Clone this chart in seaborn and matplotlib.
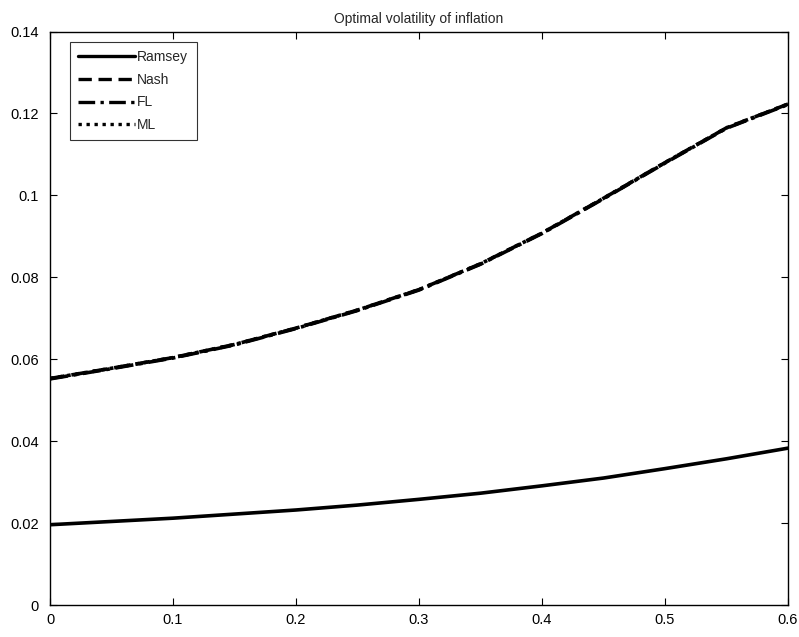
import matplotlib
matplotlib.use("Agg")
import matplotlib.pyplot as plt
import seaborn as sns
import pandas as pd

# Horizontal grid and the optimal inflation volatility under each regime
x_vals = [0.0, 0.05, 0.10, 0.15, 0.20, 0.25, 0.30, 0.35, 0.40, 0.45, 0.50, 0.55, 0.60]
ramsey = [0.0196, 0.0204, 0.0212, 0.0222, 0.0232, 0.0244, 0.0258, 0.0273, 0.0291, 0.0310, 0.0333, 0.0357, 0.0383]
nash = [0.0553, 0.0578, 0.0604, 0.0636, 0.0676, 0.0720, 0.0770, 0.0833, 0.0908, 0.0993, 0.1080, 0.1165, 0.1223]
fl = [0.0552, 0.0577, 0.0603, 0.0635, 0.0675, 0.0719, 0.0769, 0.0832, 0.0907, 0.0992, 0.1079, 0.1164, 0.1222]
ml = [0.0553, 0.0578, 0.0604, 0.0636, 0.0676, 0.0720, 0.0770, 0.0833, 0.0908, 0.0993, 0.1080, 0.1165, 0.1223]

series_names = ["Ramsey", "Nash", "FL", "ML"]
series_values = [ramsey, nash, fl, ml]
line_styles = ["-", (0, (4.0, 2.0)), (0, (5.0, 1.6, 1.0, 1.6)), (0, (1.0, 1.4))]

x_ticks = [0, 0.1, 0.2, 0.3, 0.4, 0.5, 0.6]
x_tick_labels = ["0", "0.1", "0.2", "0.3", "0.4", "0.5", "0.6"]
y_ticks = [0, 0.02, 0.04, 0.06, 0.08, 0.1, 0.12, 0.14]
y_tick_labels = ["0", "0.02", "0.04", "0.06", "0.08", "0.1", "0.12", "0.14"]

sns.set_theme(style="white")
plt.rcParams["font.family"] = ["Liberation Sans", "DejaVu Sans"]
plt.rcParams["xtick.direction"] = "in"
plt.rcParams["ytick.direction"] = "in"

fig = plt.figure(figsize=(7.99, 6.37), dpi=100)
ax = fig.add_axes([0.0626, 0.0502, 0.9237, 0.9003])

for name, vals, ls in zip(series_names, series_values, line_styles):
    df = pd.DataFrame({"x": x_vals, "y": vals})
    sns.lineplot(data=df, x="x", y="y", ax=ax, color="black", linewidth=2.6,
                 linestyle=ls, label=name)

ax.set_xlim(0, 0.6)
ax.set_ylim(0, 0.14)
ax.set_xticks(x_ticks)
ax.set_xticklabels(x_tick_labels)
ax.set_yticks(y_ticks)
ax.set_yticklabels(y_tick_labels)
ax.set_xlabel("")
ax.set_ylabel("")
ax.tick_params(axis="both", which="both", direction="in", length=5, width=0.8,
               colors="black", labelsize=10.5, top=True, right=True,
               bottom=True, left=True)
ax.tick_params(axis="y", pad=8)
ax.tick_params(axis="x", pad=6)
for sp in ax.spines.values():
    sp.set_visible(True)
    sp.set_color("black")
    sp.set_linewidth(1.0)

ax.set_title("Optimal volatility of inflation", fontsize=10, pad=6)

leg = ax.legend(loc="upper left", bbox_to_anchor=(0.027, 0.982), borderaxespad=0,
                fontsize=10, handlelength=4.1, handletextpad=0.15,
                labelspacing=0.62, borderpad=0.6, frameon=True, fancybox=False)
leg.get_frame().set_edgecolor("black")
leg.get_frame().set_linewidth(0.8)
for h in leg.get_lines():
    h.set_linewidth(2.4)

fig.savefig("out.png", dpi=100)
